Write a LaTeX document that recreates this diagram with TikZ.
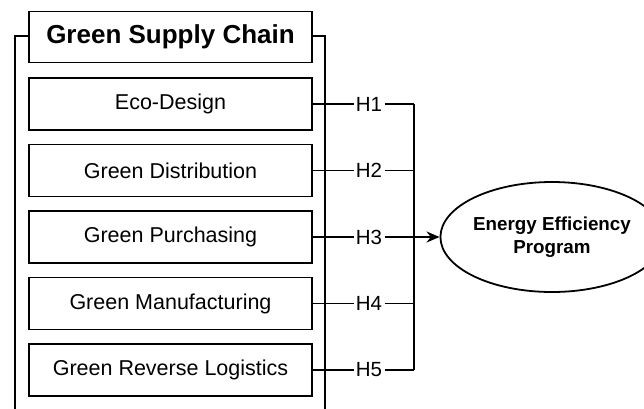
\documentclass[tikz,border=0pt]{standalone}
\usepackage{fontspec}
\setmainfont{Liberation Sans}
\usetikzlibrary{shapes.geometric,arrows.meta}
\begin{document}
\begin{tikzpicture}[x=1pt,y=-1pt,
  line width=1.8pt,
  factor/.style={draw, rectangle, minimum width=283pt, minimum height=52pt, inner sep=0pt,
    font=\fontsize{21.5}{26}\selectfont},
  titlebox/.style={draw, rectangle, minimum width=283pt, minimum height=51pt, inner sep=0pt,
    font=\bfseries\fontsize{26}{31}\selectfont},
  hyp/.style={inner sep=1.5pt, font=\fontsize{20.5}{24}\selectfont},
  outcome/.style={draw, ellipse, minimum width=180pt, minimum height=110pt, inner sep=0pt,
    align=center, font=\bfseries\fontsize{18.8}{23}\selectfont},
  link/.style={draw, line width=1.8pt}
]
\useasboundingbox (0,0) rectangle (644,408);

% construct group
\node[titlebox] (gsc) at (170.5,37) {Green Supply Chain};
\coordinate (bl) at (15,36);
\coordinate (br) at (325,36);
\coordinate (blb) at (15,409);
\coordinate (brb) at (325,409);
\draw (gsc.west |- bl) -- (bl) -- (blb);
\draw (gsc.east |- br) -- (br) -- (brb);

% dimensions
\node[factor] (f1) at (170.5,104) {Eco-Design};
\node[factor] (f2) at (170.5,170.5) {Green Distribution};
\node[factor] (f3) at (170.5,237) {Green Purchasing};
\node[factor] (f4) at (170.5,303.5) {Green Manufacturing};
\node[factor] (f5) at (170.5,370) {Green Reverse Logistics};

% hypotheses
\foreach \i in {1,...,5} {
  \node[hyp] (h\i) at (369,0 |- f\i) {H\i};
  \coordinate (j\i) at (414,0 |- f\i);
  \draw[link] (f\i.east) -- (h\i.west);
}
\draw[link] (h1.east) -- (j1);
\draw[link] (h2.east) -- (j2);
\draw[link] (h4.east) -- (j4);
\draw[link] (h5.east) -- (j5);
\draw[link] (j1) -- (j5);

% outcome
\node[outcome] (eep) at (552,237) {Energy Efficiency\\Program};
\draw[link, -{Stealth[length=13pt,width=11pt]}] (h3.east) -- (eep.west);
\end{tikzpicture}
\end{document}
